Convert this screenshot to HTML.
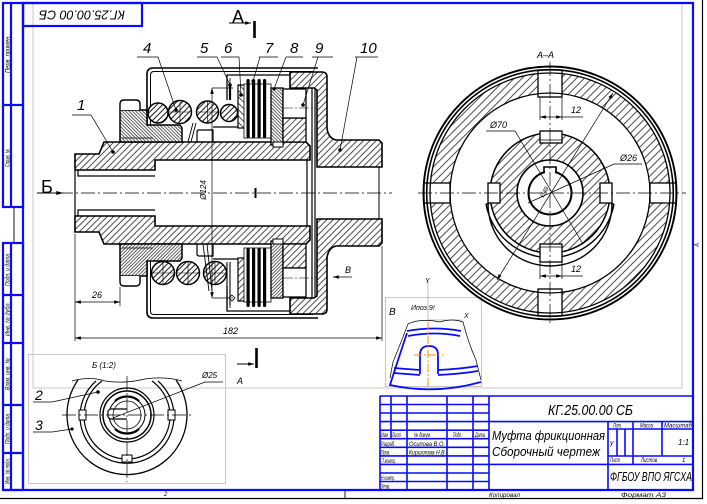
<!DOCTYPE html>
<html><head><meta charset="utf-8"><style>
html,body{margin:0;padding:0;background:#fff;}
svg{display:block}
text{font-family:"Liberation Sans","DejaVu Sans",sans-serif;font-style:italic;fill:#000}
.b{stroke:#0a0aff;fill:none}
.t{font-size:6px}
</style></head><body>
<svg width="707" height="504" viewBox="0 0 707 504" xmlns="http://www.w3.org/2000/svg">
<defs>
<pattern id="h1" patternUnits="userSpaceOnUse" width="4.5" height="4.5" patternTransform="rotate(45)"><rect width="4.5" height="4.5" fill="#fff"/><line x1="1" y1="0" x2="1" y2="4.5" stroke="#000" stroke-width="0.7"/></pattern>
<pattern id="hb" patternUnits="userSpaceOnUse" width="4" height="4" patternTransform="rotate(45)"><rect width="4" height="4" fill="#fff"/><line x1="1" y1="0" x2="1" y2="4" stroke="#000" stroke-width="0.9"/></pattern>
<pattern id="h2" patternUnits="userSpaceOnUse" width="4.5" height="4.5" patternTransform="rotate(-45)"><rect width="4.5" height="4.5" fill="#fff"/><line x1="1" y1="0" x2="1" y2="4.5" stroke="#000" stroke-width="0.7"/></pattern>
<pattern id="h3" patternUnits="userSpaceOnUse" width="2.4" height="2.4" patternTransform="rotate(-45)"><rect width="2.4" height="2.4" fill="#fff"/><line x1="0.6" y1="0" x2="0.6" y2="2.4" stroke="#000" stroke-width="0.6"/></pattern>
<pattern id="h5" patternUnits="userSpaceOnUse" width="5.5" height="5.5" patternTransform="rotate(45)"><rect width="5.5" height="5.5" fill="#fff"/><line x1="1" y1="0" x2="1" y2="5.5" stroke="#000" stroke-width="0.7"/></pattern>
<marker id="a" viewBox="0 0 10 6" refX="10" refY="3" markerWidth="7" markerHeight="3.5" orient="auto-start-reverse" markerUnits="userSpaceOnUse"><path d="M0,0L10,3L0,6z" fill="#000"/></marker>
<marker id="ab" viewBox="0 0 10 6" refX="10" refY="3" markerWidth="12" markerHeight="4" orient="auto-start-reverse" markerUnits="userSpaceOnUse"><path d="M0,0L10,3L0,6z" fill="#000"/></marker>

<g id="sym" stroke="#000">
 <path d="M75,154 L99,154 L104,142 L306,142 L310,146 L310,160 L155,160 L155,170 L75,170 Z" stroke-width="1.6"/>
 <path d="M75,170 V193 M78,170 V176 H155 M307,160 V193" fill="none" stroke-width="1.2"/>
 <path d="M290,72 H322 Q327,72 327,77 V128 Q328,138 336,140 H379 L382,143 V167 H317 V90 L314,88 H290 Z" stroke-width="1.6"/>
 <path d="M379,167 V193" fill="none" stroke-width="1"/>
 <path d="M147,125 V74 Q147,68 153,68 H318" fill="none" stroke-width="1.6"/>
 <path d="M150.5,125 V75 Q150.5,71.5 154,71.5 H313" fill="none" stroke-width="1"/>
 <path d="M312,88 V193 M315,88 V193" fill="none" stroke-width="1.2"/>
 <path d="M227,100 V75 H290" fill="none" stroke-width="1.3"/>
 <path d="M230,100 V78" fill="none" stroke-width="0.8"/>
 <rect x="238" y="85" width="7" height="43" fill="url(#h2)" stroke-width="1.2"/>
 <rect x="244" y="84" width="27" height="54" fill="#fff" stroke-width="0.8"/>
 <rect x="246.5" y="79" width="3.2" height="59" rx="1.5" fill="#000" stroke="none"/>
 <rect x="252" y="79" width="3.2" height="59" rx="1.5" fill="#000" stroke="none"/>
 <rect x="257.5" y="79" width="3.2" height="59" rx="1.5" fill="#000" stroke="none"/>
 <rect x="263" y="79" width="3.2" height="59" rx="1.5" fill="#000" stroke="none"/>
 <rect x="271" y="88" width="12" height="57" fill="url(#h3)" stroke-width="1.3"/>
 <rect x="273" y="142" width="10" height="5" fill="#fff" stroke-width="1"/>
 <rect x="283" y="118" width="23" height="24" stroke-width="1.3"/>
 <rect x="283" y="89" width="23" height="29" fill="#fff" stroke-width="1.3"/>
 <path d="M283,108 H316" stroke-dasharray="10,2,2,2" stroke-width="0.6" fill="none"/>
 <path d="M120,110 H147 V125 H180 L182,128 V142 H120 Z" fill="url(#h3)" stroke-width="1.5"/>
 <path d="M120,110 V104 Q120,100 124,100 H136 Q140,100 140,104 V110" fill="#fff" stroke-width="1.4"/>
 <path d="M122,138 H153" fill="none" stroke-width="0.7"/>
 <path d="M213,127 H238" fill="none" stroke-width="1.2"/>
 <path d="M197,142 V132 Q197,130 199,130 H213 V142" fill="none" stroke-width="1.2"/>
</g>
</defs>

<rect width="707" height="504" fill="#fff"/>

<g stroke="#c8c8c8" fill="none" stroke-width="1">
 <path d="M33,3 V388 H682 V3"/>
 <rect x="28.5" y="354.5" width="197" height="129"/>
 <rect x="385.5" y="297.5" width="96" height="89"/>
</g>

<use href="#sym" fill="url(#h1)"/>
<use href="#sym" fill="url(#h2)" transform="matrix(1 0 0 -1 0 386)"/>

<g stroke="#000">
 <circle cx="158" cy="113" r="10" fill="url(#hb)" stroke-width="1.5"/>
 <circle cx="180" cy="112" r="11.5" fill="url(#hb)" stroke-width="1.5"/>
 <circle cx="207.5" cy="112" r="11" fill="url(#hb)" stroke-width="1.5"/>
 <circle cx="229" cy="113" r="8.5" fill="url(#hb)" stroke-width="1.5"/>
 <path d="M170,112 H190 M180,102 V122 M197,112 H218 M207.5,101 V123" stroke-width="0.6" fill="none"/>
 <path d="M188,142 L193,123 M191,142 L196,123" stroke-width="0.9" fill="none"/>
 <path d="M230,86 V100" stroke-width="2.2"/>
 <circle cx="163" cy="273" r="11.5" fill="url(#hb)" stroke-width="1.5"/>
 <circle cx="188" cy="273" r="11.5" fill="url(#hb)" stroke-width="1.5"/>
 <circle cx="215" cy="273" r="11.5" fill="url(#hb)" stroke-width="1.5"/>
 <path d="M152,273 H174 M163,262 V284 M177,273 H199 M188,262 V284 M204,273 H226 M215,262 V284" stroke-width="0.6" fill="none"/>
 <path d="M227,262 V308 M230,262 V305" stroke-width="1.1" fill="none"/>
 <path d="M203,244 L209,291 M207,244 L212,291" stroke-width="0.9" fill="none"/>
 <path d="M232,295 L235,298 L232,301 L229,298 Z" fill="#fff" stroke-width="0.8"/>

 <path d="M37,193 H392" stroke-width="0.7" stroke-dasharray="14,3,2,3" fill="none"/>
 <path d="M255.5,188 V198" stroke-width="2"/>
 <path d="M212,88 V298" stroke-width="0.7" marker-start="url(#a)" marker-end="url(#a)" fill="none"/>
 <path d="M212,88 H233 M212,298 H233" stroke-width="0.7" fill="none"/>
 <path d="M75,234 V341 M120,287 V306 M382,246 V341" stroke-width="0.7" fill="none"/>
 <path d="M75,302 H120" stroke-width="0.7" marker-start="url(#a)" marker-end="url(#a)" fill="none"/>
 <path d="M75,338 H382" stroke-width="0.7" marker-start="url(#a)" marker-end="url(#a)" fill="none"/>
 <path d="M352,277 H333" stroke-width="0.8" marker-end="url(#a)" fill="none"/>
 <path d="M37,193 H63" stroke-width="1" marker-end="url(#ab)" fill="none"/>
 <path d="M229,23 H251" stroke-width="1" marker-end="url(#a)" fill="none"/>
 <path d="M254.5,21 V38" stroke-width="2.6"/>
 <path d="M237,364 H254" stroke-width="1" marker-end="url(#a)" fill="none"/>
 <path d="M256.5,348 V368" stroke-width="2.6"/>

 <g stroke-width="0.7" fill="none">
  <path d="M72,115 H91 L113,152"/>
  <path d="M137,57 H158 L176,110"/>
  <path d="M197,57 H217 L230,85"/>
  <path d="M221,57 H239 L241,95"/>
  <path d="M259,57 H278 M260,57 L253,81"/>
  <path d="M286,57 H303 M286,57 L274,89"/>
  <path d="M312,57 H333 M318,57 L303,105"/>
  <path d="M355,57 H378 M357,57 L340,150"/>
 </g>
 <g fill="#000" stroke="none">
  <circle cx="113" cy="152" r="1.8"/><circle cx="176" cy="110" r="1.8"/><circle cx="230" cy="85" r="1.8"/>
  <circle cx="241" cy="95" r="1.8"/><circle cx="253" cy="81" r="1.6"/><circle cx="274" cy="89" r="1.6"/>
  <circle cx="303" cy="105" r="1.8"/><circle cx="340" cy="150" r="1.8"/>
 </g>
</g>

<g font-size="15">
 <text x="77" y="110">1</text>
 <text x="143" y="53">4</text>
 <text x="200" y="53">5</text>
 <text x="224" y="53">6</text>
 <text x="265" y="53">7</text>
 <text x="290" y="53">8</text>
 <text x="315" y="53">9</text>
 <text x="360" y="53">10</text>
</g>
<text x="232" y="23" font-size="18" style="font-style:normal">А</text>
<text x="41" y="193" font-size="18" style="font-style:normal">Б</text>
<text x="237" y="384" font-size="9">А</text>
<text x="345" y="273" font-size="9">В</text>
<text x="92" y="298" font-size="9">26</text>
<text x="223" y="334" font-size="9">182</text>
<text transform="translate(206,190) rotate(-90)" text-anchor="middle" font-size="8">Ø124</text>

<g stroke="#000">
 <path fill="url(#h5)" stroke="none" fill-rule="evenodd" d="M430,193 A120,120 0 1,0 670,193 A120,120 0 1,0 430,193 Z M450,193 A100,100 0 1,0 650,193 A100,100 0 1,0 450,193 Z"/>
 <g fill="#fff" stroke-width="1.3">
  <rect x="538" y="70" width="24" height="27"/>
  <rect x="538" y="289" width="24" height="27"/>
  <rect x="424" y="183" width="26" height="20"/>
  <rect x="650" y="183" width="26" height="20"/>
 </g>
 <g fill="none">
  <circle cx="550" cy="193" r="126.5" stroke-width="1.9"/>
  <circle cx="550" cy="193" r="123.3" stroke-width="1.6"/>
  <circle cx="550" cy="193" r="120" stroke-width="1.3"/>
  <circle cx="550" cy="193" r="100" stroke-width="1.3"/>
 </g>
 <path d="M486,204 A65,65 0 0,0 614,204 M488,204 A62,62 0 0,0 612,204 M486,204 H489 M614,204 H611" fill="none" stroke-width="1.4"/>
 <circle cx="550" cy="193" r="60" fill="url(#h5)" stroke-width="1.5"/>
 <g fill="#fff" stroke-width="1.3">
  <rect x="540" y="131" width="22" height="12"/>
  <rect x="540" y="244" width="22" height="18"/>
  <rect x="488" y="183" width="12" height="20"/>
  <rect x="600" y="183" width="12" height="20"/>
 </g>
 <path d="M540,140 H562 M540,247 H562" stroke-width="0.8" fill="none"/>
 <circle cx="550" cy="193" r="33" fill="#fff" stroke-width="1.6"/>
 <circle cx="550" cy="193" r="21.5" fill="#fff" stroke-width="2"/>
 <rect x="545" y="168" width="10" height="5" fill="#fff" stroke="none"/>
 <path d="M544,172.5 V167 H556 V172.5" fill="none" stroke-width="1.6"/>
 <path d="M418,193 H686 M550,62 V325" stroke-width="0.7" stroke-dasharray="14,3,2,3" fill="none"/>
 <g stroke-width="0.7" fill="none">
  <path d="M613,93 L497,280" marker-start="url(#a)" marker-end="url(#a)"/>
  <path d="M486,131 H515 L583,244"/>
  <path d="M642,164 H614 L528,203"/>
  <path d="M540,97 V120 M562,97 V120 M562,245 V279 M540,262 V279"/>
  <path d="M540,117 H562" marker-start="url(#a)" marker-end="url(#a)"/>
  <path d="M562,117 H583"/>
  <path d="M540,276 H562" marker-start="url(#a)" marker-end="url(#a)"/>
  <path d="M562,276 H583"/>
 </g>
</g>
<text x="537" y="58" font-size="9">А–А</text>
<text x="490" y="128" font-size="9">Ø70</text>
<text x="620" y="161" font-size="9">Ø26</text>
<text x="571" y="113" font-size="9">12</text>
<text x="571" y="272" font-size="9">12</text>
<text transform="translate(546,193) rotate(-60)" text-anchor="middle" font-size="6">Ø48</text>

<g fill="none">
 <path d="M428,280 V320 H462" stroke="#b0b0b0" stroke-width="0.8"/>
 <path d="M408,324 Q420,318 440,322 Q452,318 463,322 Q468,342 476,360 L481,380 M408,324 Q400,345 393,362 L390,378" stroke="#000" stroke-width="0.7"/>
 <g stroke="#0a0aff" stroke-width="1.8">
  <path d="M407,331 Q435,326 461,331"/>
  <path d="M408,336 Q435,331 460,336"/>
  <path d="M420,374 V355 Q420,346 429,346 Q438,346 438,355 V374"/>
  <path d="M394,368 Q406,369 420,370 M438,370 Q460,369 478,366"/>
  <path d="M394,373 Q406,374 420,375 M438,375 Q460,374 478,371"/>
  <path d="M407,333 Q398,360 390,385 Q435,395 481,382"/>
 </g>
 <path d="M428,322 V388 M414,355 H443" stroke="#ff8c00" stroke-width="1" stroke-dasharray="8,2,2,2"/>
</g>
<text x="389" y="315" font-size="10">В</text>
<text x="411" y="310" font-size="7">Ипоз.9!</text>
<text x="464" y="318" font-size="7" fill="#999">X</text>
<text x="425" y="283" font-size="7" fill="#999">Y</text>

<g stroke="#000" fill="none">
 <path d="M78,380 A60,60 0 1,0 176,380" stroke-width="1.3"/>
 <path d="M72,381 Q90,376 105,381 Q125,384 145,379 Q165,376 182,381" stroke-width="0.8"/>
 <path d="M96,381 A47,47 0 1,0 158,381" stroke-width="1.2"/>
 <path d="M102,381 A43,43 0 1,0 152,381" stroke-width="1.2"/>
 <g fill="#fff" stroke-width="1"><rect x="79" y="410" width="7" height="10"/><rect x="168" y="410" width="7" height="10"/><rect x="122" y="455" width="10" height="7"/></g>
 <circle cx="127" cy="415" r="27" stroke-width="1.2"/>
 <circle cx="127" cy="415" r="24" stroke-width="1.5"/>
 <circle cx="127" cy="415" r="18" stroke-width="1"/>
 <path d="M115,401 A18,18 0 0,1 139,401 M115,429 A18,18 0 0,0 139,429" stroke-width="2.2"/>
 <path d="M127,409 H110 L108,411 V417 L110,419 H127" stroke-width="1.2" fill="#fff"/>
 <circle cx="127" cy="415" r="14" stroke-width="0.8"/>
 <path d="M62,415 H192 M127,376 V482" stroke-width="0.7" stroke-dasharray="14,3,2,3"/>
 <path d="M33,402 H52 L98,392 M33,432 H52 L72,429 M223,382 H205 L113,418" stroke-width="0.7"/>
</g>
<circle cx="98" cy="392" r="1.8"/><circle cx="72" cy="429" r="1.6"/>
<text x="92" y="368" font-size="8">Б (1:2)</text>
<text x="202" y="378" font-size="8">Ø25</text>
<text x="35" y="400" font-size="14">2</text>
<text x="35" y="430" font-size="14">3</text>

<path d="M702.5,0 V498.5 H0" stroke="#000" stroke-width="1.2" fill="none"/>
<path d="M345,490 V498 M14,207 V243" stroke="#000" stroke-width="0.9"/>
<g class="b" stroke-width="2.2">
 <path d="M23,3 H693 V490 H3 M23,3 V490"/>
 <rect x="3" y="3" width="20" height="204"/>
 <path d="M11,3 V207 M3,105 H23"/>
 <rect x="3" y="243" width="20" height="247"/>
 <path d="M11,243 V490 M3,295 H23 M3,343 H23 M3,405 H23 M3,453 H23"/>
 <rect x="23" y="3" width="119" height="23"/>
</g>
<text transform="translate(82,14) rotate(180)" text-anchor="middle" dominant-baseline="middle" font-size="13" textLength="86" lengthAdjust="spacingAndGlyphs">КГ.25.00.00 СБ</text>
<g class="t">
 <text transform="translate(9.5,54) rotate(-90)" text-anchor="middle" textLength="38" lengthAdjust="spacingAndGlyphs">Перв. примен.</text>
 <text transform="translate(9.5,158) rotate(-90)" text-anchor="middle" textLength="18" lengthAdjust="spacingAndGlyphs">Справ. №</text>
 <text transform="translate(9.5,270) rotate(-90)" text-anchor="middle" textLength="32" lengthAdjust="spacingAndGlyphs">Подп. и дата</text>
 <text transform="translate(9.5,319) rotate(-90)" text-anchor="middle" textLength="34" lengthAdjust="spacingAndGlyphs">Инв. № дубл.</text>
 <text transform="translate(9.5,374) rotate(-90)" text-anchor="middle" textLength="32" lengthAdjust="spacingAndGlyphs">Взам. инв. №</text>
 <text transform="translate(9.5,429) rotate(-90)" text-anchor="middle" textLength="30" lengthAdjust="spacingAndGlyphs">Подп. и дата</text>
 <text transform="translate(9.5,471) rotate(-90)" text-anchor="middle" textLength="26" lengthAdjust="spacingAndGlyphs">Инв. № подл.</text>
</g>
<text transform="translate(699,247) rotate(-90)" font-size="6">А</text>
<text x="164" y="496" font-size="6">2</text>
<text x="489" y="497" class="t" textLength="31" lengthAdjust="spacingAndGlyphs">Копировал</text>
<text x="621" y="497" class="t" textLength="45" lengthAdjust="spacingAndGlyphs">Формат   А3</text>

<g class="b" stroke-width="1.6">
 <path d="M380,396 H693 M380,396 V490 M489,396 V490 M489,421.6 H693 M489,464.4 H693 M608,421.6 V490"/>
 <path d="M608,429 H693 M608,456 H693 M633,421.6 V464.4 M662,421.6 V456 M617,429 V456 M625,429 V456"/>
 <path d="M391,396 V438.7 M407,396 V490 M447,396 V490 M473,396 V490"/>
 <path d="M380,404.5 H489 M380,413 H489 M380,421.6 H489 M380,430.2 H489 M380,438.7 H489 M380,447.3 H489 M380,455.9 H489 M380,464.4 H489 M380,473 H489 M380,481.5 H489"/>
</g>
<text x="548" y="415" font-size="15" textLength="85" lengthAdjust="spacingAndGlyphs">КГ.25.00.00 СБ</text>
<text x="492" y="440" font-size="13" textLength="113" lengthAdjust="spacingAndGlyphs">Муфта фрикционная</text>
<text x="492" y="456" font-size="13" textLength="108" lengthAdjust="spacingAndGlyphs">Сборочный чертеж</text>
<text x="610" y="481" font-size="13" textLength="82" lengthAdjust="spacingAndGlyphs">ФГБОУ ВПО ЯГСХА</text>
<g class="t">
 <text x="613" y="427.5" textLength="9" lengthAdjust="spacingAndGlyphs">Лит.</text>
 <text x="640" y="427.5" textLength="13" lengthAdjust="spacingAndGlyphs">Масса</text>
 <text x="664" y="427.5" textLength="28" lengthAdjust="spacingAndGlyphs">Масштаб</text>
 <text x="610" y="445" font-size="7">у</text>
 <text x="678" y="445" font-size="8">1:1</text>
 <text x="610" y="462" textLength="10" lengthAdjust="spacingAndGlyphs">Лист</text>
 <text x="641" y="462" textLength="16" lengthAdjust="spacingAndGlyphs">Листов</text>
 <text x="682" y="462">1</text>
 <text x="381" y="437" textLength="7" lengthAdjust="spacingAndGlyphs">Изм</text>
 <text x="392" y="437" textLength="9" lengthAdjust="spacingAndGlyphs">Лист</text>
 <text x="414" y="437" textLength="17" lengthAdjust="spacingAndGlyphs">№ докум.</text>
 <text x="453" y="437" textLength="9" lengthAdjust="spacingAndGlyphs">Подп.</text>
 <text x="475" y="437" textLength="10" lengthAdjust="spacingAndGlyphs">Дата</text>
 <text x="381" y="446" textLength="14" lengthAdjust="spacingAndGlyphs">Разраб.</text>
 <text x="409" y="446" textLength="36" lengthAdjust="spacingAndGlyphs">Осипова В.О.</text>
 <text x="381" y="454.5" textLength="9" lengthAdjust="spacingAndGlyphs">Пров.</text>
 <text x="409" y="454.5" textLength="37" lengthAdjust="spacingAndGlyphs">Кириллова Н.В.</text>
 <text x="382" y="463" textLength="14" lengthAdjust="spacingAndGlyphs">Т.контр.</text>
 <text x="381" y="480" textLength="14" lengthAdjust="spacingAndGlyphs">Н.контр.</text>
 <text x="381" y="488.5" textLength="9" lengthAdjust="spacingAndGlyphs">Утв.</text>
</g>
</svg>
</body></html>
